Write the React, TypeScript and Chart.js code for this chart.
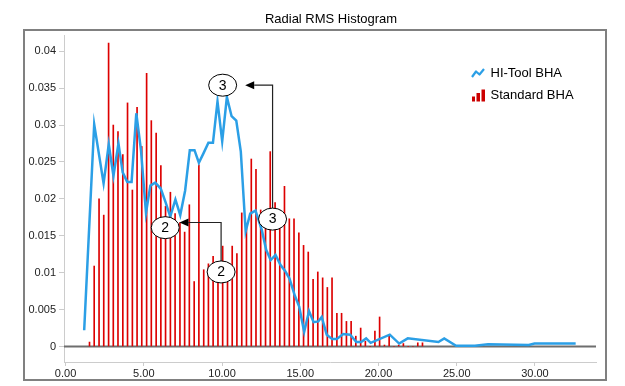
import React, { useEffect, useRef } from 'react';
import { Chart, registerables } from 'chart.js';

Chart.register(...registerables);

const FONT = "'Liberation Sans', Arial, sans-serif";

// Standard BHA histogram bins (x = bin centre, y = density)
const binCenters = [
  1.53, 1.83, 2.14, 2.44, 2.75, 3.05, 3.35, 3.66, 3.96, 4.27,
  4.57, 4.87, 5.18, 5.48, 5.79, 6.09, 6.39, 6.70, 7.00, 7.31,
  7.61, 7.91, 8.22, 8.52, 8.83, 9.13, 9.43, 9.74, 10.04, 10.35,
  10.65, 10.95, 11.26, 11.56, 11.87, 12.17, 12.47, 12.78, 13.08, 13.39,
  13.69, 13.99, 14.30, 14.60, 14.91, 15.21, 15.51, 15.82, 16.12, 16.43,
  16.73, 17.03, 17.34, 17.64, 17.95, 18.25, 18.55, 18.86, 19.16, 19.47,
  19.77, 20.07, 20.38, 20.68, 20.99, 21.29, 21.59, 21.90, 22.20, 22.51,
  22.81,
];
const standardBHA = [
  0.0006, 0.0109, 0.0200, 0.0178, 0.0411, 0.0300, 0.0291, 0.0260, 0.0330, 0.0212,
  0.0324, 0.0271, 0.0370, 0.0306, 0.0289, 0.0245, 0.0190, 0.0209, 0.0180, 0.0168,
  0.0155, 0.0192, 0.0088, 0.0246, 0.0104, 0.0112, 0.0122, 0.0105, 0.0136, 0.0114,
  0.0136, 0.0126, 0.0181, 0.0165, 0.0254, 0.0240, 0.0185, 0.0175, 0.0264, 0.0195,
  0.0185, 0.0217, 0.0173, 0.0173, 0.0154, 0.0137, 0.0128, 0.0091, 0.0101, 0.0093,
  0.0080, 0.0093, 0.0045, 0.0045, 0.0034, 0.0034, 0.0014, 0.0025, 0.0007, 0.0000,
  0.0021, 0.0040, 0.0002, 0.0016, 0.0000, 0.0002, 0.0004, 0.0000, 0.0000, 0.0005,
  0.0005,
];

// HI-Tool BHA curve
const hiToolX = [
  1.19, 1.83, 2.43, 2.76, 3.06, 3.38, 3.65, 3.94, 4.22, 4.52,
  4.82, 5.14, 5.42, 5.73, 6.08, 6.40, 6.69, 7.02, 7.33, 7.64,
  7.94, 8.24, 8.52, 8.82, 9.13, 9.42, 9.71, 10.01, 10.31, 10.61,
  10.91, 11.20, 11.51, 11.80, 12.14, 12.54, 12.82, 13.11, 13.42, 13.72,
  14.04, 14.31, 14.65, 14.93, 15.25, 15.56, 15.85, 16.15, 16.37, 16.69,
  17.04, 17.33, 17.74, 18.19, 18.58, 18.89, 19.21, 19.50, 20.72, 21.32,
  21.87, 23.83, 24.20, 24.96, 26.16, 27.0, 29.6, 29.97, 32.6,
];
const hiToolY = [
  0.0022, 0.0301, 0.0221, 0.0274, 0.0231, 0.0275, 0.0236, 0.0223, 0.0223, 0.0316,
  0.0266, 0.0181, 0.0218, 0.0222, 0.0214, 0.0195, 0.0176, 0.0199, 0.0178, 0.0211,
  0.0266, 0.0266, 0.0249, 0.0262, 0.0276, 0.0276, 0.0332, 0.0278, 0.0338, 0.0312,
  0.0306, 0.0264, 0.0156, 0.0180, 0.0184, 0.0158, 0.0131, 0.0117, 0.0124, 0.0111,
  0.0102, 0.0092, 0.0069, 0.0054, 0.0020, 0.0048, 0.0033, 0.0034, 0.0040, 0.0016,
  0.0010, 0.0010, 0.0017, 0.0016, 0.0006, 0.0006, 0.0011, 0.0005, 0.0016, 0.0004,
  0.0011, 0.0006, 0.0011, 0.0001, 0.0001, 0.0003, 0.0002, 0.0004, 0.0004,
];

const yTickValues = [0, 0.005, 0.01, 0.015, 0.02, 0.025, 0.03, 0.035, 0.04];
const xTickValues = [0, 5, 10, 15, 20, 25, 30];

const seriesNames = ['HI-Tool BHA', 'Standard BHA'];
const chartTitle = 'Radial RMS Histogram';

// Callout bubbles (data coordinates)
const calloutLabels = ['3', '3', '2', '2'];
const calloutX = [10.04, 13.23, 6.37, 9.94];
const calloutY = [0.0354, 0.01726, 0.0161, 0.0101];
// Arrows: from bubble index (vertical up to cornerY, then left to tipX)
const arrowFrom = [1, 3];
const arrowCornerY = [0.0354, 0.0168];
const arrowTipX = [11.48, 7.28];

const LINE_COLOR = '#2b9fe6';
const BAR_COLOR = '#dd0000';

const decorPlugin = {
  id: 'decor',
  beforeDraw(chart: any) {
    const ctx = chart.ctx;
    ctx.save();
    ctx.fillStyle = '#ffffff';
    ctx.fillRect(0, 0, chart.width, chart.height);
    ctx.strokeStyle = '#808080';
    ctx.lineWidth = 2;
    ctx.strokeRect(24, 30, 582, 350);
    ctx.fillStyle = '#000';
    ctx.font = `13px ${FONT}`;
    ctx.textAlign = 'center';
    ctx.textBaseline = 'middle';
    ctx.fillText(chartTitle, 331, 19);
    ctx.restore();
  },
  beforeDatasetsDraw(chart: any) {
    const ctx = chart.ctx;
    const y = chart.scales.y;
    const y0 = y.getPixelForValue(0);
    ctx.save();
    ctx.strokeStyle = '#6e6e6e';
    ctx.lineWidth = 2;
    ctx.beginPath();
    ctx.moveTo(chart.chartArea.left, y0);
    ctx.lineTo(chart.chartArea.right, y0);
    ctx.stroke();
    ctx.restore();
  },
  afterDraw(chart: any) {
    const ctx = chart.ctx;
    const xs = chart.scales.x;
    const ys = chart.scales.y;
    const rx = 14;
    const ry = 11;
    ctx.save();
    // arrows
    ctx.strokeStyle = '#222';
    ctx.fillStyle = '#000';
    ctx.lineWidth = 1.2;
    arrowFrom.forEach((bi, k) => {
      const fx = xs.getPixelForValue(calloutX[bi]);
      const fy = ys.getPixelForValue(calloutY[bi]) - ry;
      const cy = ys.getPixelForValue(arrowCornerY[k]);
      const tx = xs.getPixelForValue(arrowTipX[k]);
      const head = 9;
      ctx.beginPath();
      ctx.moveTo(fx, fy);
      ctx.lineTo(fx, cy);
      ctx.lineTo(tx + head, cy);
      ctx.stroke();
      ctx.beginPath();
      ctx.moveTo(tx, cy);
      ctx.lineTo(tx + head, cy - 4);
      ctx.lineTo(tx + head, cy + 4);
      ctx.closePath();
      ctx.fill();
    });
    // bubbles
    calloutLabels.forEach((lab, i) => {
      const cx = xs.getPixelForValue(calloutX[i]);
      const cy = ys.getPixelForValue(calloutY[i]);
      ctx.beginPath();
      ctx.ellipse(cx, cy, rx, ry, 0, 0, Math.PI * 2);
      ctx.fillStyle = '#fff';
      ctx.fill();
      ctx.strokeStyle = '#000';
      ctx.lineWidth = 1;
      ctx.stroke();
      ctx.fillStyle = '#000';
      ctx.font = `14px ${FONT}`;
      ctx.textAlign = 'center';
      ctx.textBaseline = 'middle';
      ctx.fillText(lab, cx, cy + 0.5);
    });
    // legend
    const lx = 472;
    ctx.strokeStyle = LINE_COLOR;
    ctx.lineWidth = 2.2;
    ctx.lineJoin = 'round';
    ctx.beginPath();
    ctx.moveTo(lx, 77);
    ctx.lineTo(lx + 4, 71.5);
    ctx.lineTo(lx + 7.5, 74.5);
    ctx.lineTo(lx + 12, 69);
    ctx.stroke();
    ctx.fillStyle = '#cc0000';
    ctx.fillRect(lx, 96.5, 3, 5);
    ctx.fillRect(lx + 4.5, 93, 3.5, 8.5);
    ctx.fillRect(lx + 9.5, 89.5, 3.5, 12);
    ctx.fillStyle = '#000';
    ctx.font = `13px ${FONT}`;
    ctx.textAlign = 'left';
    ctx.textBaseline = 'middle';
    ctx.fillText(seriesNames[0], 490.5, 73);
    ctx.fillText(seriesNames[1], 490.5, 95);
    ctx.restore();
  },
};

export default function App() {
  const ref = useRef<HTMLCanvasElement>(null);
  useEffect(() => {
    const canvas = ref.current;
    if (!canvas) return;
    const chart = new Chart(canvas, {
      type: 'bar',
      data: {
        datasets: [
          {
            type: 'line',
            label: seriesNames[0],
            data: hiToolX.map((x, i) => ({ x, y: hiToolY[i] })),
            borderColor: LINE_COLOR,
            backgroundColor: LINE_COLOR,
            borderWidth: 2.5,
            pointRadius: 0,
            tension: 0,
            fill: false,
            order: 0,
          } as any,
          {
            type: 'bar',
            label: seriesNames[1],
            data: binCenters.map((x, i) => ({ x, y: standardBHA[i] })),
            backgroundColor: BAR_COLOR,
            borderWidth: 0,
            barThickness: 1,
            order: 1,
          } as any,
        ],
      },
      options: {
        responsive: false,
        animation: false,
        devicePixelRatio: 1,
        layout: { padding: { top: 35, right: 29, bottom: 0, left: 0 } },
        plugins: {
          legend: { display: false },
          title: { display: false },
          tooltip: { enabled: false },
        },
        scales: {
          x: {
            type: 'linear',
            min: -0.1,
            max: 33.9,
            offset: false,
            afterBuildTicks: (s: any) => {
              s.ticks = xTickValues.map((v) => ({ value: v }));
            },
            afterFit: (s: any) => {
              s.height = 24;
            },
            grid: {
              offset: false,
              drawOnChartArea: false,
              drawTicks: true,
              tickLength: 4,
              tickColor: '#cccccc',
            },
            border: { display: true, color: '#cccccc', width: 1 },
            ticks: {
              padding: 1,
              color: '#222',
              font: { family: FONT, size: 11 },
              autoSkip: false,
              maxRotation: 0,
              callback: (v: any) => Number(v).toFixed(2),
            },
          },
          y: {
            type: 'linear',
            min: -0.0021,
            max: 0.0422,
            afterBuildTicks: (s: any) => {
              s.ticks = yTickValues.map((v) => ({ value: v }));
            },
            afterFit: (s: any) => {
              s.width = 64;
            },
            grid: {
              drawOnChartArea: false,
              drawTicks: true,
              tickLength: 5,
              tickColor: '#cccccc',
            },
            border: { display: true, color: '#cccccc', width: 1 },
            ticks: {
              padding: 3,
              color: '#222',
              font: { family: FONT, size: 11 },
              autoSkip: false,
              callback: (v: any) => String(Number(Number(v).toFixed(3))),
            },
          },
        },
      } as any,
      plugins: [decorPlugin],
    });
    return () => chart.destroy();
  }, []);
  return (
    <div style={{ position: 'fixed', left: 0, top: 0, width: 625, height: 386, background: '#fff' }}>
      <canvas ref={ref} width={625} height={386} style={{ display: 'block', width: 625, height: 386 }} />
    </div>
  );
}
